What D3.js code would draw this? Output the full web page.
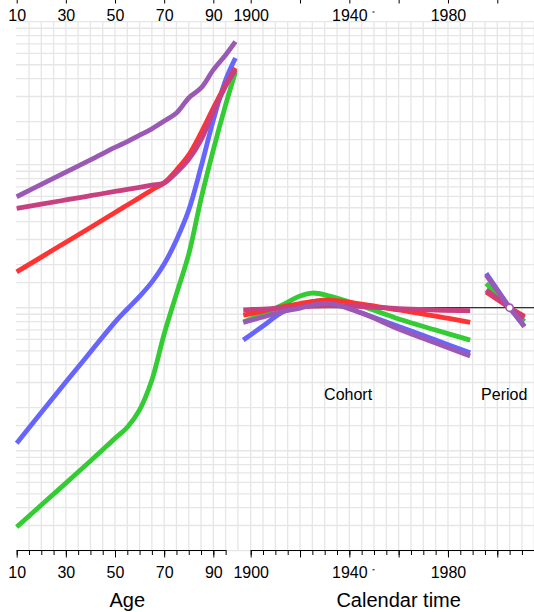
<!DOCTYPE html>
<html lang="en">
<head>
<meta charset="UTF-8">
<title>Age-period-cohort</title>
<script src="https://d3js.org/d3.v7.min.js"></script>
<style>
  body { margin: 0; background: #fff; }
  svg { display: block; font-family: "Liberation Sans", Arial, sans-serif; }
  .grid line { stroke: #e6e6e6; stroke-width: 1.3; }
  .axis path, .axis line { stroke: #000; stroke-width: 1; }
  .axis text { font-size: 16px; fill: #000; font-family: "Liberation Sans", Arial, sans-serif; }
  .title { font-size: 20px; fill: #000; }
  .panel { font-size: 16px; fill: #000; }
</style>
</head>
<body>
<svg width="534" height="612"></svg>
<script>
// age effects (rates)
const ages = [10, 20, 30, 40, 50, 55, 60, 65, 70, 75, 80, 85, 90, 95, 99];
const ageGreen  = [0.293, 0.417, 0.594, 0.847, 1.22, 1.46, 1.93, 3.12, 6.55, 12.5, 23.7, 57.6, 127, 262, 445];
const ageBlue   = [1.13, 1.85, 3.02, 4.9, 7.94, 9.8, 12.0, 15.1, 20.2, 29.8, 48.2, 96.4, 205, 391, 557];
const ageRed    = [17.8, 22.6, 28.7, 36.4, 46.3, 52.3, 58.9, 66.6, 74.8, 91.8, 117, 167, 249, 361, 475];
const agePink   = [49.6, 53.0, 56.7, 60.7, 65.0, 67.2, 69.5, 71.9, 74.5, 88.2, 109, 149, 234, 355, 460];
const agePurple = [59.7, 72.8, 88.8, 108, 132, 145, 161, 178, 202, 230, 293, 344, 460, 585, 725];

// cohort effects (rate ratios)
const cohorts = [1897, 1905, 1912, 1920, 1925, 1932, 1945, 1960, 1975, 1989];
const cohGreen  = [0.794, 0.904, 1.028, 1.207, 1.267, 1.207, 1.028, 0.834, 0.698, 0.594];
const cohBlue   = [0.594, 0.745, 0.914, 1.044, 1.105, 1.101, 0.918, 0.739, 0.594, 0.485];
const cohRed    = [0.889, 0.948, 1.011, 1.070, 1.105, 1.132, 1.061, 0.964, 0.875, 0.790];
const cohPink   = [0.964, 0.979, 0.995, 1.011, 1.028, 1.036, 1.019, 0.987, 0.964, 0.953];
const cohPurple = [0.790, 0.861, 0.933, 0.995, 1.044, 1.070, 0.918, 0.710, 0.566, 0.460];

// period effects (rate ratios), reference 2005
const periods = [1995.5, 2005, 2011];
const perGreen  = [1.48, 1, 0.80];
const perBlue   = [1.74, 1, 0.74];
const perRed    = [1.29, 1, 0.87];
const perPink   = [1.33, 1, 0.85];
const perPurple = [1.69, 1, 0.74];
const periodRef = 2005;

const colors = ["#33cc33", "#6666ff", "#ff3333", "#c84080", "#9b59b6"];

const ageTicks = d3.range(10, 96, 5);
const ageMajor = [10, 30, 50, 70, 90];
const calTicks = d3.range(1900, 2021, 5);
const calMajor = [1900, 1920, 1940, 1960, 1980, 2000, 2020];
const calLabels = [1900, 1940, 1980];
const gridMant = [1, 1.5, 2, 3, 4, 5, 6, 7, 8, 9];

const series = [
  {col: colors[0], age: ageGreen,  coh: cohGreen,  per: perGreen},
  {col: colors[1], age: ageBlue,   coh: cohBlue,   per: perBlue},
  {col: colors[2], age: ageRed,    coh: cohRed,    per: perRed},
  {col: colors[3], age: agePink,   coh: cohPink,   per: perPink},
  {col: colors[4], age: agePurple, coh: cohPurple, per: perPurple}
];

const svg = d3.select("svg");
const plotTop = 21.7, plotBottom = 550.7;

const x = d3.scaleLinear().domain([10, 100]).range([16.7, 237.9]);
const xc = d3.scaleLinear().domain([1900, 2020]).range([250.7, 546.6]);
const y = d3.scaleLog().domain([0.2, 1000]).range([plotBottom, plotTop]);
const yr = d3.scaleLog().domain([0.02, 100]).range([plotBottom, plotTop]);  // RR 1 <-> rate 10

// grid
const grid = svg.append("g").attr("class", "grid");
const hVals = [];
[-1, 0, 1, 2, 3].forEach(k => gridMant.forEach(m => {
  const v = +(m * Math.pow(10, k)).toPrecision(6);
  if (v >= 0.2 && v <= 1000) hVals.push(v);
}));
grid.selectAll(".h").data(hVals).enter().append("line")
  .attr("x1", 16).attr("x2", 534)
  .attr("y1", d => y(d)).attr("y2", d => y(d));
grid.selectAll(".va").data(d3.range(15, 101, 5)).enter().append("line")
  .attr("x1", d => x(d)).attr("x2", d => x(d))
  .attr("y1", plotTop).attr("y2", plotBottom);
grid.selectAll(".vc").data(calTicks).enter().append("line")
  .attr("x1", d => xc(d)).attr("x2", d => xc(d))
  .attr("y1", plotTop).attr("y2", plotBottom);

// reference line RR = 1
svg.append("line")
  .attr("x1", xc(1900)).attr("x2", 534)
  .attr("y1", yr(1)).attr("y2", yr(1))
  .attr("stroke", "#000").attr("stroke-width", 1);

const smooth = d3.line().curve(d3.curveCatmullRom.alpha(0.5));
const straight = d3.line();

series.forEach(s => {
  svg.append("path")
    .attr("d", smooth(ages.map((a, i) => [x(a), y(s.age[i])])))
    .attr("fill", "none").attr("stroke", s.col).attr("stroke-width", 4.8);
});
series.forEach(s => {
  svg.append("path")
    .attr("d", smooth(cohorts.map((c, i) => [xc(c), yr(s.coh[i])])))
    .attr("fill", "none").attr("stroke", s.col).attr("stroke-width", 4.8);
});
series.forEach(s => {
  svg.append("path")
    .attr("d", straight(periods.map((p, i) => [xc(p), yr(s.per[i])])))
    .attr("fill", "none").attr("stroke", s.col).attr("stroke-width", 4.8);
});

svg.append("circle")
  .attr("cx", xc(periodRef)).attr("cy", yr(1)).attr("r", 3.6)
  .attr("fill", "#fff").attr("stroke", colors[4]).attr("stroke-width", 1.6);

// axes
function drawAxes(yPos, majorLen, minorLen, pad) {
  const ax = d3.scaleLinear().domain([10, 95]).range([x(10), x(95)]);
  const g1 = svg.append("g").attr("class", "axis").attr("transform", `translate(0,${yPos})`);
  g1.call(d3.axisBottom(ax).tickValues(ageTicks).tickSize(minorLen).tickSizeOuter(0).tickFormat(""));
  const g2 = svg.append("g").attr("class", "axis").attr("transform", `translate(0,${yPos})`);
  g2.call(d3.axisBottom(ax).tickValues(ageMajor).tickSize(majorLen).tickPadding(pad).tickSizeOuter(0).tickFormat(d3.format("d")));
  g2.select(".domain").remove();

  const g3 = svg.append("g").attr("class", "axis").attr("transform", `translate(0,${yPos})`);
  g3.call(d3.axisBottom(xc).tickValues(calTicks).tickSize(minorLen).tickSizeOuter(0).tickFormat(""));
  const g4 = svg.append("g").attr("class", "axis").attr("transform", `translate(0,${yPos})`);
  g4.call(d3.axisBottom(xc).tickValues(calMajor).tickSize(majorLen).tickPadding(pad).tickSizeOuter(0)
    .tickFormat(d => calLabels.includes(d) ? d : ""));
  g4.select(".domain").remove();
  [g2, g4].forEach(g => g.selectAll("text").attr("font-size", 16).attr("font-family", null));
}
drawAxes(550, 7.5, 5, 9.4);
drawAxes(-4.5, 8, 4.5, 5.8);

// small stray mark beside the 1940 labels
[569.7, 12].forEach(yy => {
  svg.append("line")
    .attr("x1", xc(1949.4)).attr("x2", xc(1950.2))
    .attr("y1", yy).attr("y2", yy)
    .attr("stroke", "#444").attr("stroke-width", 1.4);
});

svg.append("text").attr("class", "title")
  .attr("x", (x(10) + x(100)) / 2).attr("y", 606.6).attr("text-anchor", "middle").text("Age");
svg.append("text").attr("class", "title")
  .attr("x", (xc(1900) + xc(2020)) / 2).attr("y", 606.6).attr("text-anchor", "middle").text("Calendar time");

svg.append("text").attr("class", "panel")
  .attr("x", xc(1939.5)).attr("y", 400).attr("text-anchor", "middle").text("Cohort");
svg.append("text").attr("class", "panel")
  .attr("x", xc(2002.8)).attr("y", 400).attr("text-anchor", "middle").text("Period");
</script>
</body>
</html>
